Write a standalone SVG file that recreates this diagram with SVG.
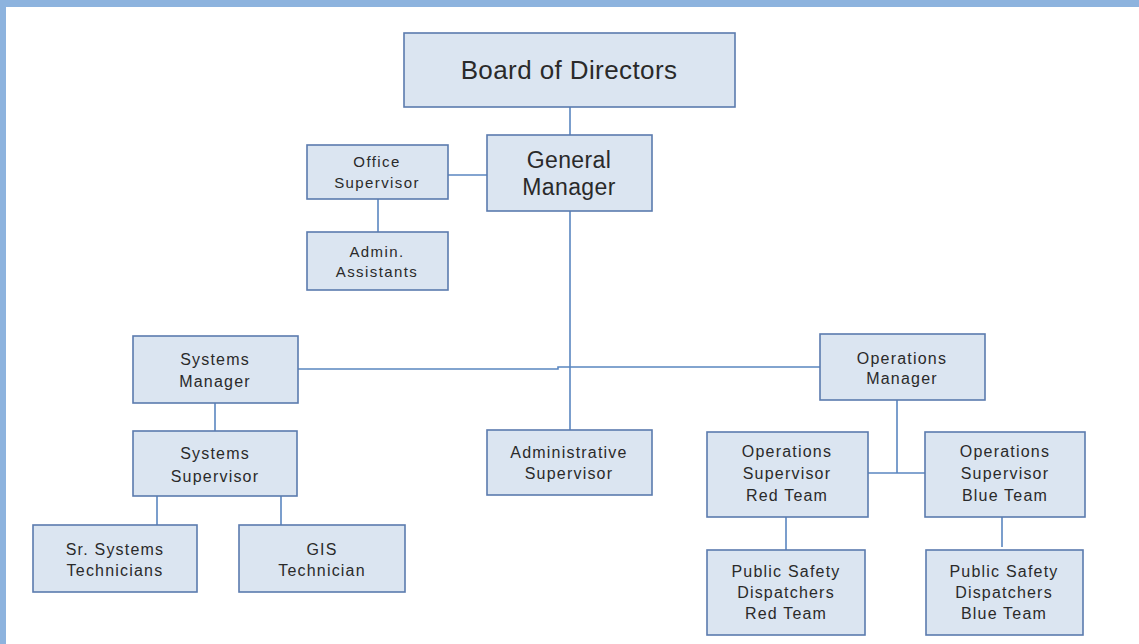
<svg xmlns="http://www.w3.org/2000/svg" width="1139" height="644" viewBox="0 0 1139 644">
<style>
.box{fill:#DBE5F1;stroke:#5B7BAE;stroke-width:1.6}
.t{font-family:"Liberation Sans",Arial,sans-serif;font-size:16px;fill:#2a2a2a;text-anchor:middle;letter-spacing:1.2px}
.sm{font-size:15px;letter-spacing:1.4px}
.big{font-size:26px;letter-spacing:0.4px}
.gm{font-size:23px;letter-spacing:0.4px}
.conn line,.conn polyline{stroke:#5A86C0;stroke-width:1.6;fill:none}
</style>
<rect x="0" y="0" width="1139" height="644" fill="#fff"/>
<rect x="0" y="0" width="1139" height="7" fill="#8DB3DE"/>
<rect x="0" y="0" width="6" height="644" fill="#8DB3DE"/>
<g class="conn" id="connectors">
<line x1="570" y1="107" x2="570" y2="135"/>
<line x1="448" y1="175" x2="487" y2="175"/>
<line x1="378" y1="199" x2="378" y2="232"/>
<line x1="570" y1="211" x2="570" y2="430"/>
<polyline points="298,369 558,369 558,367 820,367"/>
<line x1="215" y1="403" x2="215" y2="431"/>
<line x1="157" y1="496" x2="157" y2="525"/>
<line x1="281" y1="496" x2="281" y2="525"/>
<line x1="897" y1="400" x2="897" y2="473"/>
<line x1="868" y1="473" x2="925" y2="473"/>
<line x1="786" y1="517" x2="786" y2="550"/>
<line x1="1002" y1="517" x2="1002" y2="547"/>
</g>
<g id="board"><rect class="box" x="404" y="33" width="331" height="74"/><text class="t big" x="569" y="79">Board of Directors</text></g>
<g id="gm"><rect class="box" x="487" y="135" width="165" height="76"/><text class="t gm" x="569" y="168">General</text><text class="t gm" x="569" y="195">Manager</text></g>
<g id="office"><rect class="box" x="307" y="145" width="141" height="54"/><text class="t sm" x="377" y="167">Office</text><text class="t sm" x="377" y="188">Supervisor</text></g>
<g id="admin"><rect class="box" x="307" y="232" width="141" height="58"/><text class="t sm" x="377" y="257">Admin.</text><text class="t sm" x="377" y="277">Assistants</text></g>
<g id="sysmgr"><rect class="box" x="133" y="336" width="165" height="67"/><text class="t" x="215" y="365">Systems</text><text class="t" x="215" y="387">Manager</text></g>
<g id="syssup"><rect class="box" x="133" y="431" width="164" height="65"/><text class="t" x="215" y="459">Systems</text><text class="t" x="215" y="482">Supervisor</text></g>
<g id="srtech"><rect class="box" x="33" y="525" width="164" height="67"/><text class="t" x="115" y="555">Sr. Systems</text><text class="t" x="115" y="576">Technicians</text></g>
<g id="gis"><rect class="box" x="239" y="525" width="166" height="67"/><text class="t" x="322" y="555">GIS</text><text class="t" x="322" y="576">Technician</text></g>
<g id="adminsup"><rect class="box" x="487" y="430" width="165" height="65"/><text class="t" x="569" y="458">Administrative</text><text class="t" x="569" y="479">Supervisor</text></g>
<g id="opsmgr"><rect class="box" x="820" y="334" width="165" height="66"/><text class="t" x="902" y="364">Operations</text><text class="t" x="902" y="384">Manager</text></g>
<g id="opsred"><rect class="box" x="707" y="432" width="161" height="85"/><text class="t" x="787" y="457">Operations</text><text class="t" x="787" y="479">Supervisor</text><text class="t" x="787" y="501">Red Team</text></g>
<g id="opsblue"><rect class="box" x="925" y="432" width="160" height="85"/><text class="t" x="1005" y="457">Operations</text><text class="t" x="1005" y="479">Supervisor</text><text class="t" x="1005" y="501">Blue Team</text></g>
<g id="psdred"><rect class="box" x="707" y="550" width="158" height="85"/><text class="t" x="786" y="577">Public Safety</text><text class="t" x="786" y="598">Dispatchers</text><text class="t" x="786" y="619">Red Team</text></g>
<g id="psdblue"><rect class="box" x="926" y="550" width="157" height="85"/><text class="t" x="1004" y="577">Public Safety</text><text class="t" x="1004" y="598">Dispatchers</text><text class="t" x="1004" y="619">Blue Team</text></g>
</svg>
